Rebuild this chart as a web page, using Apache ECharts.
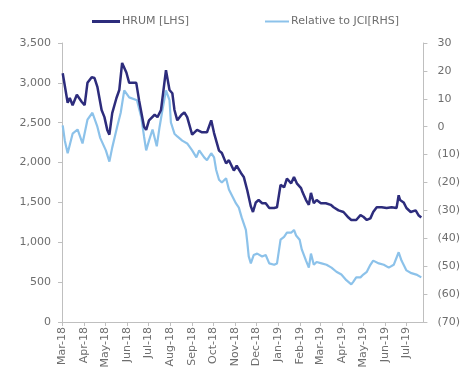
<!DOCTYPE html>
<html>
<head>
<meta charset="utf-8">
<script src="https://cdn.jsdelivr.net/npm/echarts@6/dist/echarts.min.js"></script>
<style>html,body{margin:0;padding:0;background:#fff;}#chart{width:463px;height:372px;}</style>
</head>
<body>
<div id="chart"></div>
<script>
// ---- data ----
var monthStarts = ['2018-03-01','2018-04-01','2018-05-01','2018-06-01','2018-07-01','2018-08-01','2018-09-01','2018-10-01','2018-11-01','2018-12-01','2019-01-01','2019-02-01','2019-03-01','2019-04-01','2019-05-01','2019-06-01','2019-07-01'];
var monthLabels = ['Mar-18','Apr-18','May-18','Jun-18','Jul-18','Aug-18','Sep-18','Oct-18','Nov-18','Dec-18','Jan-19','Feb-19','Mar-19','Apr-19','May-19','Jun-19','Jul-19'];
var leftTicks = [0,500,1000,1500,2000,2500,3000,3500];
var rightTicks = [-70,-60,-50,-40,-30,-20,-10,0,10,20,30];

var hrumDates = ['2018-03-02','2018-03-09','2018-03-12','2018-03-16','2018-03-22','2018-03-29','2018-04-02','2018-04-06','2018-04-12','2018-04-16','2018-04-20','2018-04-26','2018-04-30','2018-05-04','2018-05-07','2018-05-11','2018-05-17','2018-05-21','2018-05-25','2018-05-31','2018-06-04','2018-06-14','2018-06-18','2018-06-25','2018-06-28','2018-07-02','2018-07-10','2018-07-14','2018-07-19','2018-07-26','2018-07-31','2018-08-04','2018-08-07','2018-08-11','2018-08-17','2018-08-21','2018-08-25','2018-09-01','2018-09-08','2018-09-15','2018-09-22','2018-09-28','2018-10-02','2018-10-09','2018-10-13','2018-10-19','2018-10-23','2018-10-30','2018-11-03','2018-11-09','2018-11-13','2018-11-18','2018-11-23','2018-11-26','2018-11-30','2018-12-04','2018-12-09','2018-12-14','2018-12-19','2018-12-26','2018-12-30','2019-01-04','2019-01-09','2019-01-13','2019-01-19','2019-01-23','2019-01-27','2019-02-02','2019-02-04','2019-02-09','2019-02-13','2019-02-16','2019-02-20','2019-02-24','2019-03-02','2019-03-09','2019-03-16','2019-03-20','2019-03-27','2019-04-03','2019-04-10','2019-04-14','2019-04-21','2019-04-27','2019-05-01','2019-05-06','2019-05-11','2019-05-15','2019-05-20','2019-05-27','2019-06-03','2019-06-10','2019-06-17','2019-06-20','2019-06-22','2019-06-27','2019-07-01','2019-07-07','2019-07-14','2019-07-18','2019-07-22'];
var hrumValues = [3120,2750,2810,2720,2850,2760,2720,3000,3070,3060,2950,2660,2570,2410,2350,2620,2810,2910,3250,3130,3000,3000,2780,2450,2410,2530,2600,2570,2660,3160,2910,2870,2660,2530,2600,2630,2570,2350,2410,2380,2380,2530,2370,2150,2120,1990,2030,1900,1960,1870,1820,1650,1450,1380,1500,1530,1490,1490,1430,1430,1440,1720,1690,1800,1740,1820,1740,1680,1630,1530,1470,1620,1490,1530,1490,1490,1470,1440,1400,1380,1310,1280,1280,1340,1320,1280,1300,1380,1440,1440,1430,1440,1430,1590,1530,1500,1430,1380,1400,1340,1310];

var relDates = ['2018-03-02','2018-03-05','2018-03-09','2018-03-16','2018-03-23','2018-03-30','2018-04-06','2018-04-13','2018-04-20','2018-04-24','2018-05-02','2018-05-07','2018-05-11','2018-05-18','2018-05-23','2018-05-28','2018-06-04','2018-06-15','2018-06-21','2018-06-25','2018-06-28','2018-07-02','2018-07-07','2018-07-13','2018-07-17','2018-07-21','2018-07-26','2018-07-31','2018-08-02','2018-08-07','2018-08-11','2018-08-18','2018-08-25','2018-09-01','2018-09-07','2018-09-11','2018-09-18','2018-09-22','2018-09-28','2018-10-02','2018-10-05','2018-10-09','2018-10-13','2018-10-19','2018-10-23','2018-10-28','2018-11-02','2018-11-06','2018-11-10','2018-11-16','2018-11-18','2018-11-20','2018-11-23','2018-11-27','2018-12-02','2018-12-09','2018-12-14','2018-12-19','2018-12-26','2018-12-30','2019-01-04','2019-01-09','2019-01-13','2019-01-19','2019-01-23','2019-01-26','2019-01-31','2019-02-03','2019-02-09','2019-02-13','2019-02-16','2019-02-20','2019-02-24','2019-03-03','2019-03-10','2019-03-17','2019-03-24','2019-03-31','2019-04-07','2019-04-14','2019-04-17','2019-04-21','2019-04-27','2019-05-01','2019-05-06','2019-05-11','2019-05-15','2019-05-23','2019-05-30','2019-06-06','2019-06-13','2019-06-20','2019-06-24','2019-06-27','2019-07-01','2019-07-08','2019-07-15','2019-07-22'];
var relValues = [0.5,-5,-9.5,-2.5,-1,-6,2.5,5,0,-4,-8.5,-12.5,-7.5,0,5,13,10.5,9.5,3.5,-3.5,-8.5,-5,-1,-7,0,6,13,9.5,1.5,-2.5,-3.5,-5,-6,-8.5,-11,-8.5,-11,-12,-9.5,-11,-15.5,-19,-20,-18.5,-22.5,-25,-27.5,-29,-32.5,-37,-41.5,-46.5,-49,-46,-45.5,-46.5,-46,-49,-49.5,-49,-40.5,-39.5,-38,-38,-37,-39,-40.5,-44,-48,-50.5,-45.5,-49.5,-48.5,-49,-49.5,-50.5,-52,-53,-55,-56.5,-55.5,-54,-54,-53,-52,-49.5,-48,-49,-49.5,-50.5,-49.5,-45,-48,-49.5,-51.5,-52.5,-53,-54];

// ---- chart ----
function ts(s){var p=s.split('-');return Date.UTC(+p[0],+p[1]-1,+p[2]);}
var tickTs = monthStarts.map(ts);
var labelByTs = {};
tickTs.forEach(function(t,i){labelByTs[t]=monthLabels[i];});
function pairs(d,v){return d.map(function(x,i){return [ts(x),v[i]];});}

var FONT = 'DejaVu Sans';
var GREY = '#6e6e6e';
var AX = '#bfbfbf';
var DARK = '#2d2c7c';
var LIGHT = '#8cc2ea';

var chart = echarts.init(document.getElementById('chart'), null, {renderer:'canvas'});
chart.setOption({
  animation:false,
  backgroundColor:'#fff',
  textStyle:{fontFamily:FONT},
  legend:[
    {data:[{name:'HRUM [LHS]', icon:'rect', itemStyle:{color:DARK}}], left:87, top:11, itemWidth:28, itemHeight:3,
     textStyle:{color:GREY,fontSize:11,fontFamily:FONT,padding:[0,0,0,-3]}},
    {data:[{name:'Relative to JCI[RHS]', icon:'rect', itemStyle:{color:LIGHT}}], left:260, top:11, itemWidth:24, itemHeight:2,
     textStyle:{color:GREY,fontSize:11,fontFamily:FONT,padding:[0,0,0,-3]}}
  ],
  grid:{left:62, right:39, top:43, bottom:50, containLabel:false},
  xAxis:{
    type:'value', min:ts('2018-03-01'), max:ts('2019-07-25'),
    axisLine:{lineStyle:{color:AX,width:1}},
    axisTick:{show:true, customValues:tickTs, length:4, lineStyle:{color:AX}},
    splitLine:{show:false},
    axisLabel:{customValues:tickTs, rotate:90, margin:5, fontSize:11, color:GREY, fontFamily:FONT,
      formatter:function(v){return labelByTs[v]||'';}}
  },
  yAxis:[
    {type:'value', min:leftTicks[0], max:leftTicks[leftTicks.length-1], interval:500, position:'left',
     axisLine:{show:true,lineStyle:{color:AX}}, axisTick:{show:true,length:4,lineStyle:{color:AX}},
     splitLine:{show:false},
     axisLabel:{fontSize:11,color:GREY,margin:11,fontFamily:FONT,
       formatter:function(v){return v.toLocaleString('en-US');}}},
    {type:'value', min:rightTicks[0], max:rightTicks[rightTicks.length-1], interval:10, position:'right',
     axisLine:{show:true,lineStyle:{color:AX}}, axisTick:{show:true,length:4,lineStyle:{color:AX}},
     splitLine:{show:false},
     axisLabel:{fontSize:11,color:GREY,margin:14,fontFamily:FONT,
       formatter:function(v){return v<0?'('+Math.abs(v)+')':String(v);}}}
  ],
  series:[
    {name:'Relative to JCI[RHS]', type:'line', yAxisIndex:1, symbol:'none', z:2,
     lineStyle:{color:LIGHT, width:2.2}, itemStyle:{color:LIGHT},
     data:pairs(relDates,relValues)},
    {name:'HRUM [LHS]', type:'line', yAxisIndex:0, symbol:'none', z:3,
     lineStyle:{color:DARK, width:2.5}, itemStyle:{color:DARK},
     data:pairs(hrumDates,hrumValues)}
  ]
});
</script>
</body>
</html>
